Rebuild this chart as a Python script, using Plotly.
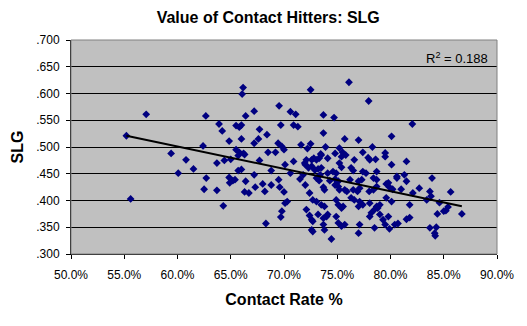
import numpy as np
import plotly.graph_objects as go

# Contact rate (%) and slugging percentage for each hitter
contact_rate = [
    55.2, 57.06, 59.4, 60.8, 60.07, 55.6,
    66.16, 66.07, 62.66, 66.4, 67.2, 69.54, 63.9, 64.2, 65.5, 66.0, 65.8, 67.7, 68.4, 69.7,
    64.85, 66.0, 67.2, 67.6, 62.4, 69.45, 69.8, 65.5, 65.8, 66.2, 68.5, 69.2, 70.0, 65.7,
    66.3, 61.5, 63.7, 64.4, 65.0, 67.7, 65.7, 66.0, 67.2, 68.8, 62.7, 64.85, 65.2, 64.9,
    65.4, 66.4, 69.5, 68.0, 68.8, 67.3, 69.6, 62.5, 63.7, 66.3, 66.7, 68.2, 70.0, 64.3,
    69.8, 69.7, 68.3, 70.1, 70.3, 70.1, 70.9, 70.6, 70.6, 70.9,
    76.1, 72.5, 77.95, 71.1, 73.7, 74.7, 71.3, 73.7, 80.1, 75.7, 77.0, 71.6, 72.5, 72.2,
    73.9, 75.2, 78.3, 82.05,
    73.45, 74.8, 75.5, 77.4, 79.5,
    75.8, 79.5, 73.5, 73.3, 73.05, 72.8, 72.6, 72.1, 71.95, 75.4, 74.1, 77.9, 78.05, 78.6,
    76.6, 80.1, 81.5, 72.0, 72.3, 72.6, 72.9, 73.2, 73.5, 75.2, 75.4, 76.3, 76.5, 77.4,
    77.7, 78.7, 71.5, 71.8, 73.4, 74.1, 74.6, 74.9, 73.05, 73.3, 74.3, 74.8, 75.1, 76.2,
    77.0, 77.3, 78.4, 78.7, 79.8, 80.6, 81.3, 81.5, 72.0, 72.4, 73.7, 73.8, 74.8, 75.1,
    75.2, 75.7, 75.9, 76.5, 76.9, 77.1, 78.0, 78.4, 78.7, 79.6, 79.9, 80.2, 81.0, 82.1,
    82.7, 72.7, 73.05, 73.5, 73.8, 74.9, 75.1, 75.4, 75.55, 76.3, 76.6, 77.1, 77.0, 77.4,
    78.05, 78.7, 79.0, 79.6, 80.1, 81.8, 72.1, 72.4, 72.6, 72.7, 73.2, 73.7, 74.0, 74.1,
    74.9, 75.1, 75.4, 75.7, 78.05, 78.2, 78.5, 78.8, 79.0, 79.3, 79.8, 79.5, 80.4, 80.7,
    81.5, 81.8, 72.6, 72.7, 73.7, 73.8, 77.1, 78.5, 79.9, 83.7, 74.45, 77.0, 83.4,
    83.9, 83.7, 83.8, 85.65, 84.6, 85.4, 85.0, 85.2, 84.4, 86.7, 84.3, 84.15, 84.2, 80.6,
]
slg = [
    .521, .561, .488, .476, .451, .403,
    .611, .599, .558, .558, .567, .577, .543, .530, .540, .541, .537, .533, .523, .541,
    .511, .515, .507, .515, .502, .507, .501, .495, .490, .488, .490, .490, .495, .484,
    .486, .459, .470, .475, .477, .475, .456, .458, .448, .456, .442, .443, .437, .433,
    .439, .436, .439, .431, .429, .425, .425, .421, .419, .416, .414, .417, .416, .390,
    .380, .369, .357, .395, .398, .467, .473, .451, .566, .541,
    .621, .607, .586, .561, .560, .555, .538, .526, .520, .515, .513, .504, .506, .497,
    .500, .498, .500, .543,
    .487, .488, .490, .490, .489,
    .485, .482, .485, .479, .476, .479, .476, .476, .470, .482, .479, .480, .476, .477,
    .476, .467, .473, .467, .461, .464, .457, .459, .461, .470, .462, .461, .456, .454,
    .451, .454, .440, .448, .448, .451, .454, .451, .442, .437, .437, .440, .436, .439,
    .436, .439, .442, .439, .433, .442, .448, .436, .429, .414, .425, .420, .429, .426,
    .420, .420, .417, .420, .417, .423, .417, .420, .426, .431, .425, .421, .421, .414,
    .423, .401, .398, .392, .389, .401, .392, .386, .389, .405, .401, .398, .389, .392,
    .395, .389, .392, .405, .398, .392, .383, .372, .364, .361, .374, .367, .370, .374,
    .370, .358, .352, .355, .370, .377, .383, .386, .374, .364, .370, .355, .355, .357,
    .365, .368, .345, .342, .355, .345, .355, .349, .347, .349, .328, .339, .401,
    .442, .417, .408, .416, .396, .388, .380, .381, .375, .375, .350, .339, .334, .445,
]

x_tick_vals = [0.50, 0.55, 0.60, 0.65, 0.70, 0.75, 0.80, 0.85, 0.90]
x_tick_labels = ["50.0%", "55.0%", "60.0%", "65.0%", "70.0%", "75.0%", "80.0%", "85.0%", "90.0%"]
y_tick_vals = [0.30, 0.35, 0.40, 0.45, 0.50, 0.55, 0.60, 0.65, 0.70]
y_tick_labels = [".300", ".350", ".400", ".450", ".500", ".550", ".600", ".650", ".700"]

x = np.array(contact_rate) / 100.0
y = np.array(slg)

# Linear trend line across the span of the data
slope, intercept = np.polyfit(x, y, 1)
trend_x = np.array([x.min(), x.max()])
trend_y = slope * trend_x + intercept

FONT = "Liberation Sans, Arial, sans-serif"

fig = go.Figure()
fig.add_trace(go.Scatter(
    x=x, y=y, mode="markers",
    marker=dict(symbol="diamond", size=6, color="#000080", line=dict(width=0)),
    hoverinfo="skip", showlegend=False,
))
fig.add_trace(go.Scatter(
    x=trend_x, y=trend_y, mode="lines",
    line=dict(color="black", width=2),
    hoverinfo="skip", showlegend=False,
))

fig.update_layout(
    width=527, height=326,
    margin=dict(l=71, r=30, t=40, b=72),
    paper_bgcolor="white",
    plot_bgcolor="#C0C0C0",
    font=dict(family=FONT, size=12, color="black"),
    title=dict(
        text="<b>Value of Contact Hitters: SLG</b>",
        x=0.509, xanchor="center", y=0.946, yanchor="middle",
        font=dict(family=FONT, size=16, color="black"),
    ),
    xaxis=dict(
        range=[0.5, 0.9], tickvals=x_tick_vals, ticktext=x_tick_labels,
        showgrid=False, zeroline=False,
        showline=True, linecolor="black", linewidth=1,
        ticks="outside", ticklen=4, tickcolor="black",
        ticklabelstandoff=6,
        tickfont=dict(family=FONT, size=12),
        title=dict(text="<b>Contact Rate %</b>", font=dict(family=FONT, size=16), standoff=12),
    ),
    yaxis=dict(
        range=[0.3, 0.7], tickvals=y_tick_vals, ticktext=y_tick_labels,
        showgrid=True, gridcolor="black", gridwidth=1, zeroline=False,
        showline=True, linecolor="black", linewidth=1,
        ticks="outside", ticklen=4, tickcolor="black",
        ticklabelstandoff=4,
        tickfont=dict(family=FONT, size=12),
        title=dict(text="<b>SLG</b>", font=dict(family=FONT, size=16), standoff=8),
    ),
    shapes=[dict(
        type="rect", xref="paper", yref="paper", x0=0, x1=1, y0=0, y1=1,
        line=dict(color="#808080", width=1), fillcolor="rgba(0,0,0,0)", layer="above",
    )],
    annotations=[dict(
        text="R<sup>2</sup> = 0.188", xref="paper", yref="paper",
        x=0.983, y=0.916, xanchor="right", yanchor="middle", showarrow=False,
        font=dict(family=FONT, size=13, color="black"),
    )],
)

fig.write_html("out.html")
